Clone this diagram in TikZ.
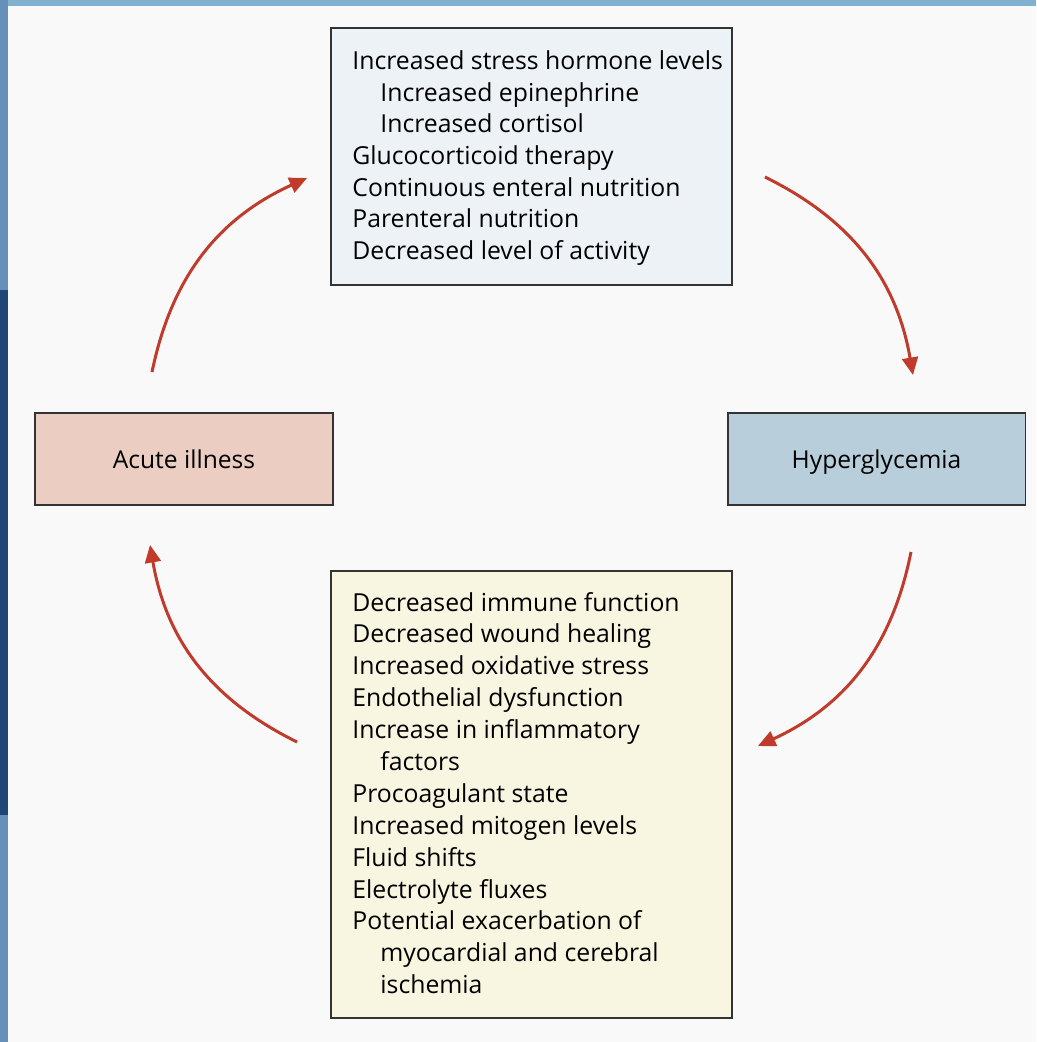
\documentclass[tikz,border=0pt]{standalone}
\usepackage{fontspec}
\setmainfont{Open Sans}
\usetikzlibrary{arrows.meta}
\definecolor{bgpaper}{HTML}{F9F9F9}
\definecolor{stripdark}{HTML}{1F4677}
\definecolor{striplight}{HTML}{6490B9}
\definecolor{striptop}{HTML}{80B1CF}
\definecolor{causefill}{HTML}{EDF2F6}
\definecolor{illfill}{HTML}{EBCDC1}
\definecolor{hyperfill}{HTML}{B8CEDB}
\definecolor{effectfill}{HTML}{F8F6E0}
\definecolor{arcred}{HTML}{C13B2C}
\definecolor{boxline}{HTML}{333333}
\tikzstyle{bigbox} = [rectangle, draw=boxline, line width=1.1pt, minimum width=8.02cm, inner sep=0pt]
\tikzstyle{smallbox} = [rectangle, draw=boxline, line width=1.1pt, minimum width=5.96cm, minimum height=1.84cm, text depth=0pt, text centered, font=\fontsize{14}{16}\selectfont]
\tikzstyle{listtext} = [anchor=west, align=left, inner sep=0pt, font=\fontsize{14.1}{18.05}\selectfont]
\tikzstyle{arc} = [line width=1.7pt, draw=arcred, -{Triangle[length=10pt, width=9pt]}, bend left=27]
\newcommand{\ind}{\hspace*{0.56cm}}

\begin{document}
\begin{tikzpicture}[x=0.02cm, y=-0.02cm]
				% page and slide strips
				\fill [bgpaper] (0,0) rectangle (1036,1042);
				\fill [striplight] (0,0) rectangle (8,1042);
				\fill [stripdark] (0,290) rectangle (8,815);
				\fill [striptop] (8,0) rectangle (1036,6);
				
				\node (cause) [bigbox, fill=causefill, minimum height=5.14cm] at (531.5,156.5) {};
				\node (causetxt) [listtext] at ([xshift=0.44cm, yshift=-0.03cm]cause.west) {Increased stress hormone levels\\
					\ind Increased epinephrine\\
					\ind Increased cortisol\\
					Glucocorticoid therapy\\
					Continuous enteral nutrition\\
					Parenteral nutrition\\
					Decreased level of activity};
				\node (ill) [smallbox, fill=illfill] at (184,459) {Acute illness};
				\node (hyper) [smallbox, fill=hyperfill] at (876.5,459) {Hyperglycemia};
				\node (effect) [bigbox, fill=effectfill, minimum height=8.94cm] at (531.5,794.5) {};
				\node (effecttxt) [listtext, font=\fontsize{14.1}{18.15}\selectfont] at ([xshift=0.44cm, yshift=0.03cm]effect.west) {Decreased immune function\\
					Decreased wound healing\\
					Increased oxidative stress\\
					Endothelial dysfunction\\
					Increase in inflammatory\\
					\ind factors\\
					Procoagulant state\\
					Increased mitogen levels\\
					Fluid shifts\\
					Electrolyte fluxes\\
					Potential exacerbation of\\
					\ind myocardial and cerebral\\
					\ind ischemia};
				
				\draw [arc] ([xshift=-0.64cm, yshift=0.8cm]ill.north) to ([xshift=-0.46cm, yshift=-0.43cm]cause.west);
				\draw [arc] ([xshift=0.64cm, yshift=-0.41cm]cause.east) to ([xshift=0.73cm, yshift=0.74cm]hyper.north);
				\draw [arc] ([xshift=0.69cm, yshift=-0.92cm]hyper.south) to ([xshift=0.5cm, yshift=0.97cm]effect.east);
				\draw [arc] ([xshift=-0.66cm, yshift=1.05cm]effect.west) to ([xshift=-0.68cm, yshift=-0.78cm]ill.south);
				
\end{tikzpicture}
\end{document}
